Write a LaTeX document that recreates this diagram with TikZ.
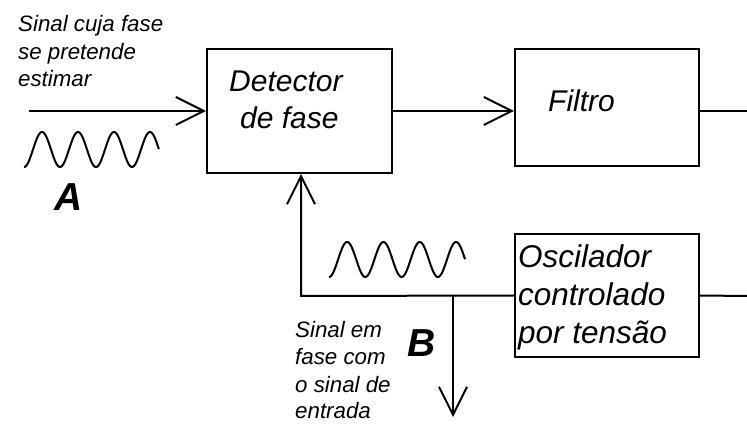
\documentclass[tikz,border=0pt]{standalone}
\usepackage{fontspec}
\setmainfont{Liberation Sans}
\usetikzlibrary{arrows.meta}
\tikzset{
  blk/.style={draw, line width=2pt, inner sep=0pt, rectangle},
  wire/.style={line width=2pt},
  arr/.style={line width=2pt, -{Straight Barb[length=28pt,width=28pt,line width=2pt]}},
  lbl/.style={inner sep=0pt, anchor=base west, font=\fontsize{22.3}{27}\selectfont\itshape},
  blt/.style={inner sep=0pt, anchor=base west, font=\fontsize{30}{37}\selectfont\itshape},
  blo/.style={inner sep=0pt, anchor=base west, font=\fontsize{31.5}{38}\selectfont\itshape},
  big/.style={inner sep=0pt, anchor=base west, font=\fontsize{39}{42}\selectfont\bfseries\itshape},
  wave/.style={line width=2pt, line join=round}
}
\begin{document}
\begin{tikzpicture}[x=1pt,y=-1pt]
\fill[white] (0,0) rectangle (747,427);
\useasboundingbox (0,0) rectangle (747,427);

% blocks
\node[blk, minimum width=185pt, minimum height=124pt] (det) at (299.5,111) {};
\node[blk, minimum width=184pt, minimum height=117pt] (filt) at (607,107.5) {};
\node[blk, minimum width=184pt, minimum height=123pt] (osc) at (607,295.5) {};

% block texts
\node[blt] (t1) at (229,92) {Detector};
\node[blt] (t2) at (240,129) {de fase};
\node[blt] (t3) at (548,112) {Filtro};
\node[blo] (t4) at (518,268) {Oscilador};
\node[blo] (t5) at (518,306) {controlado};
\node[blo] (t6) at (518,344) {por tensão};

% coordinates
\coordinate (in) at (29,111);
\coordinate (fout) at (747,111);
\coordinate (oout) at (747,296);
\coordinate (fb) at (301,296);
\coordinate (br) at (453,296);
\coordinate (bout) at (453,417);

% connectors
\draw[arr] (in) -- (det.west);
\draw[arr] (det.east) -- (filt.west |- det.east);
\draw[wire] (filt.east |- det.east) -- (fout);
\draw[wire] (osc.east) -- (oout);
\draw[arr, line join=miter] (osc.west) -- (fb) -- (fb |- det.south);
\draw[arr] (br) -- (bout);

% waves
\draw[wave] plot[domain=0:3.75, samples=200, smooth] ({24+36*\x}, {149.5+17.5*cos(360*\x)});
\draw[wave] plot[domain=0:3.75, samples=200, smooth] ({329+36.3*\x}, {259.5+17.5*cos(360*\x)});

% labels
\node[lbl] (l1) at (18,32) {Sinal cuja fase};
\node[lbl] (l2) at (18,59.5) {se pretende};
\node[lbl] (l3) at (18,87) {estimar};
\node[lbl] (m1) at (295,338) {Sinal em};
\node[lbl] (m2) at (295,365) {fase com};
\node[lbl] (m3) at (295,392) {o sinal de};
\node[lbl] (m4) at (295,419) {entrada};
\node[big] (la) at (54,211) {A};
\node[big] (lb) at (407,357) {B};
\end{tikzpicture}
\end{document}
